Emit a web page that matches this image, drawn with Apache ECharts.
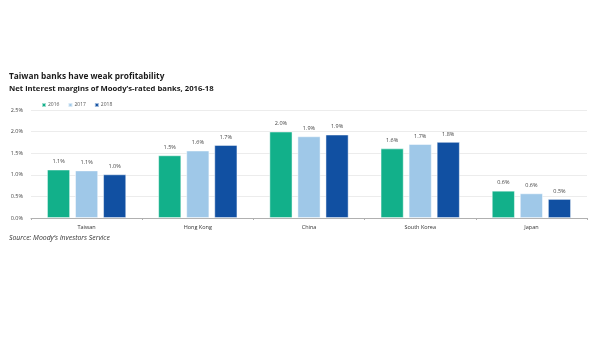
<!DOCTYPE html>
<html><head><meta charset="utf-8">
<script src="https://cdn.jsdelivr.net/npm/echarts@6/dist/echarts.min.js"></script>
<style>html,body{margin:0;padding:0;background:#fff}#c{width:600px;height:360px}</style>
</head><body><div id="c"></div>
<script>
const categories = ['Taiwan', 'Hong Kong', 'China', 'South Korea', 'Japan'];
const years = ['2016', '2017', '2018'];
const v2016 = [1.12, 1.45, 2.00, 1.61, 0.63];
const v2017 = [1.10, 1.56, 1.89, 1.71, 0.57];
const v2018 = [1.01, 1.69, 1.93, 1.76, 0.44];
const labels2016 = ['1.1%', '1.5%', '2.0%', '1.6%', '0.6%'];
const labels2017 = ['1.1%', '1.6%', '1.9%', '1.7%', '0.6%'];
const labels2018 = ['1.0%', '1.7%', '1.9%', '1.8%', '0.5%'];
const yTicks = [0, 0.5, 1.0, 1.5, 2.0, 2.5];
const colors = ['#12b08a', '#9fc8e8', '#1150a2'];

const chart = echarts.init(document.getElementById('c'), null, {renderer: 'canvas'});
const font = '"Open Sans", Lato, sans-serif';
function mk(name, data, lbls, color) {
  return {
    name: name, type: 'bar', data: data, barWidth: 23, barGap: '22%',
    itemStyle: {color: color, borderColor: 'rgba(255,255,255,0.6)', borderWidth: 0.8},
    label: {show: true, position: 'top', distance: 5, fontSize: 5.5, color: '#444', fontFamily: font,
      formatter: p => lbls[p.dataIndex]}
  };
}
chart.setOption({
  animation: false,
  textStyle: {fontFamily: font},
  title: [
    {text: 'Taiwan banks have weak profitability', left: 4, top: 68,
     textStyle: {fontSize: 8.3, fontWeight: 'bold', color: '#1a1a1a', fontFamily: font}},
    {text: 'Net interest margins of Moody\u2019s-rated banks, 2016-18', left: 4, top: 80,
     textStyle: {fontSize: 7.7, fontWeight: 'bold', color: '#1a1a1a', fontFamily: font}},
    {text: 'Source: Moody\u2019s Investors Service', left: 4, top: 230,
     textStyle: {fontSize: 6.9, fontWeight: 'normal', fontStyle: 'italic', color: '#333', fontFamily: font}}
  ],
  legend: {
    data: years, left: 36, top: 97, itemWidth: 4, itemHeight: 4, itemGap: 8, icon: 'rect',
    textStyle: {fontSize: 5, color: '#555', padding: [0, 0, 0, -3]}
  },
  grid: {left: 31, right: 13, top: 110, bottom: 142},
  xAxis: {
    type: 'category', data: categories,
    axisLine: {lineStyle: {color: '#b0b0b0', width: 1}},
    axisTick: {show: true, length: 2, lineStyle: {color: '#b0b0b0'}},
    axisLabel: {fontSize: 5.5, color: '#333', margin: 6}
  },
  yAxis: {
    type: 'value', min: 0, max: 2.5, interval: 0.5,
    axisLabel: {fontSize: 5.5, color: '#444', margin: 8,
      formatter: v => { const t = yTicks.find(x => Math.abs(x - v) < 1e-9); return (t !== undefined ? t : v).toFixed(1) + '%'; }},
    splitLine: {lineStyle: {color: '#ececec', width: 1}},
    axisLine: {show: false}, axisTick: {show: false}
  },
  series: [
    mk('2016', v2016, labels2016, colors[0]),
    mk('2017', v2017, labels2017, colors[1]),
    mk('2018', v2018, labels2018, colors[2])
  ]
});
</script></body></html>
